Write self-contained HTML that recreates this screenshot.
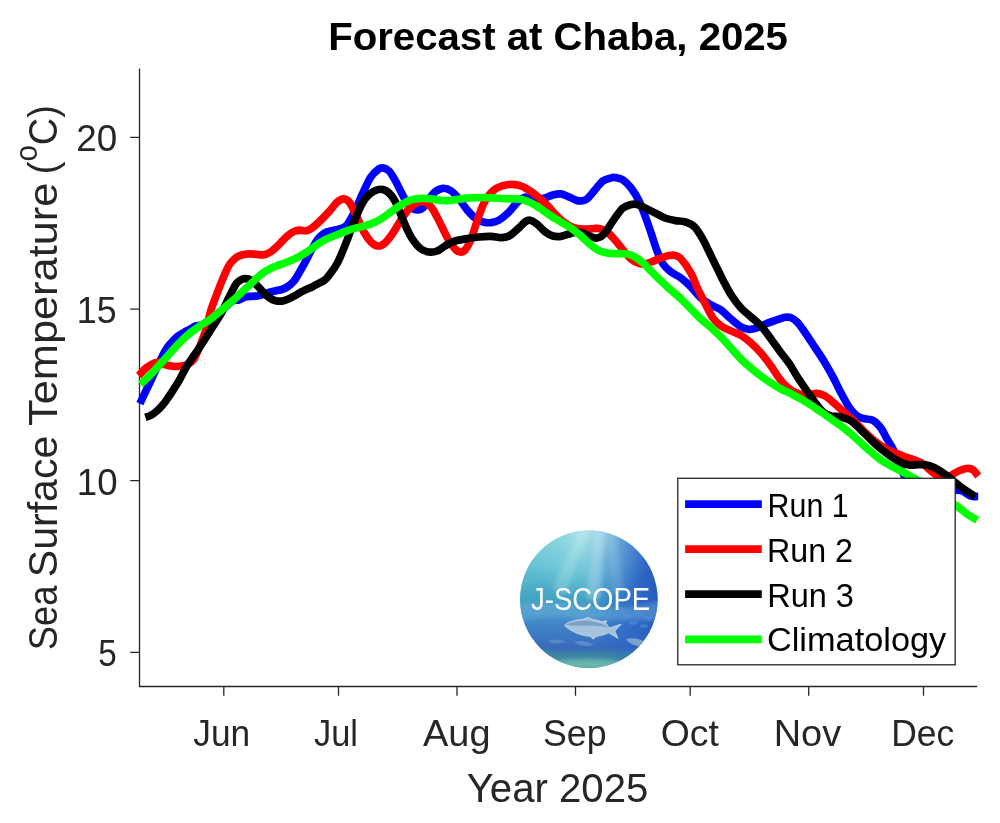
<!DOCTYPE html>
<html>
<head>
<meta charset="utf-8">
<title>Forecast at Chaba, 2025</title>
<style>
html,body{margin:0;padding:0;background:#fff;}
body{width:1000px;height:823px;overflow:hidden;font-family:"Liberation Sans",sans-serif;}
svg{display:block;will-change:transform;}
text{font-family:"Liberation Sans",sans-serif;fill:#262626;}
.ax{stroke:#262626;stroke-width:1.3;fill:none;}
.ln{fill:none;stroke-width:7.7;stroke-linejoin:round;stroke-linecap:butt;}
.tk{font-size:36.6px;}
.lg{font-size:32.6px;}
</style>
</head>
<body>
<svg width="1000" height="823" viewBox="0 0 1000 823">
<rect x="0" y="0" width="1000" height="823" fill="#fff"/>

<!-- title -->
<text transform="translate(328.18 49.50) scale(1.0435 1)" font-size="38.5" font-weight="bold" style="fill:#000">Forecast at Chaba, 2025</text>

<!-- axes -->
<path class="ax" d="M139.5 68.5V686.5H977.2"/>
<path class="ax" d="M130.2 137.4H139.5M130.2 309.1H139.5M130.2 480.6H139.5M130.2 652.4H139.5"/>
<path class="ax" d="M223.8 686.5V695.7M338.5 686.5V695.7M457 686.5V695.7M575.5 686.5V695.7M690.2 686.5V695.7M808.7 686.5V695.7M923.5 686.5V695.7"/>

<!-- data lines -->
<path class="ln" stroke="#0000ff" d="M139.9 403.7C141.1 401.1 144.9 393.1 147.1 388.4C149.4 383.7 151.2 379.8 153.2 375.5C155.2 371.2 157.3 366.7 159.3 362.5C161.3 358.4 163.3 353.8 165.4 350.4C167.4 347.1 169.4 344.9 171.4 342.5C173.5 340.2 175.5 338.2 177.5 336.5C179.5 334.8 181.6 333.6 183.6 332.5C185.6 331.3 187.6 330.5 189.7 329.4C191.7 328.3 193.7 326.7 195.7 325.9C197.8 325.2 199.6 325.9 202.0 324.8C204.4 323.8 207.3 321.5 210.0 319.6C212.7 317.7 215.3 315.6 218.0 313.4C220.7 311.2 223.5 308.6 226.0 306.5C228.5 304.4 230.8 301.8 233.0 300.7C235.2 299.6 237.2 300.5 239.3 299.8C241.4 299.2 243.3 297.6 245.4 297.0C247.4 296.5 249.4 296.5 251.4 296.3C253.5 296.1 255.5 296.3 257.5 296.0C259.5 295.6 261.6 295.0 263.6 294.4C265.6 293.7 267.6 292.8 269.7 292.2C271.7 291.6 273.7 291.2 275.7 290.7C277.8 290.3 279.8 290.2 281.8 289.5C283.8 288.8 285.9 287.9 287.9 286.5C289.9 285.1 291.9 283.5 294.0 281.0C296.0 278.5 298.0 274.7 300.0 271.3C302.0 267.9 304.1 264.2 306.1 260.4C308.1 256.6 310.1 252.2 312.2 248.6C314.2 245.0 316.2 241.3 318.2 238.7C320.3 236.1 322.6 234.3 324.3 233.1C326.1 231.9 326.4 232.0 328.8 231.4C331.2 230.7 335.8 230.3 338.8 229.2C341.8 228.2 344.2 228.0 346.9 225.0C349.5 221.9 352.2 216.3 354.9 210.9C357.5 205.6 360.2 198.6 362.9 192.9C365.6 187.2 368.2 180.9 370.9 176.9C373.6 172.9 376.9 170.4 378.9 168.9C380.9 167.4 381.3 167.5 382.9 167.9C384.6 168.2 386.9 168.9 388.9 170.9C390.9 172.9 392.9 176.4 394.9 179.9C397.0 183.4 399.0 188.1 401.0 191.9C403.0 195.7 405.0 200.1 407.0 202.9C409.0 205.8 411.1 207.8 413.0 208.9C414.8 210.1 416.3 210.1 418.0 209.9C419.7 209.8 421.2 209.8 423.0 207.9C424.8 206.1 427.0 201.6 429.0 198.9C431.0 196.2 432.7 193.7 435.0 191.9C437.4 190.1 440.4 188.5 443.0 188.3C445.7 188.1 448.4 189.1 451.1 190.9C453.7 192.7 456.4 195.7 459.1 198.9C461.7 202.1 464.4 206.8 467.1 209.9C469.8 213.1 472.4 216.0 475.1 218.0C477.8 220.0 480.5 221.2 483.1 222.0C485.8 222.7 488.5 222.9 491.1 222.6C493.8 222.2 496.2 221.7 499.2 220.0C502.1 218.2 506.0 214.8 509.0 211.9C511.9 209.1 514.2 205.4 516.8 202.9C519.5 200.5 521.8 198.0 524.8 197.3C527.8 196.6 531.5 198.8 534.8 198.9C538.2 199.0 541.9 198.6 544.9 197.9C547.9 197.2 550.2 195.6 552.9 194.9C555.6 194.2 558.2 193.6 560.9 193.9C563.6 194.2 566.2 195.8 568.9 196.9C571.6 198.0 574.9 199.9 576.9 200.5C578.9 201.2 579.3 201.2 580.9 200.9C582.6 200.7 584.6 200.8 587.0 198.9C589.3 197.1 592.3 192.9 595.0 189.9C597.6 186.9 600.3 182.9 603.0 180.9C605.7 178.9 609.0 178.4 611.0 177.9C613.0 177.3 613.0 177.1 615.0 177.5C617.0 177.8 620.4 178.1 623.0 179.9C625.7 181.6 628.4 184.4 631.0 187.9C633.7 191.4 636.7 196.2 639.1 200.9C641.4 205.6 643.1 210.6 645.1 216.0C647.1 221.3 649.1 227.1 651.1 233.0C653.1 238.8 655.1 245.8 657.1 251.0C659.1 256.2 660.8 260.5 663.1 264.0C665.4 267.6 668.1 269.7 671.1 272.1C674.1 274.4 677.9 275.6 681.1 278.1C684.4 280.5 687.5 283.5 690.8 286.8C694.1 290.1 697.5 294.8 700.8 297.9C704.2 300.9 707.5 302.9 710.8 304.9C714.2 306.9 717.5 307.5 720.9 309.9C724.2 312.2 727.5 316.1 730.9 318.9C734.2 321.7 737.9 325.2 740.9 326.9C743.9 328.6 746.2 329.2 748.9 329.3C751.6 329.5 753.9 328.9 756.9 327.9C759.9 326.9 763.6 324.6 767.0 323.3C770.3 322.0 774.0 320.9 777.0 319.9C780.0 318.9 782.7 317.7 785.0 317.3C787.3 316.9 789.0 317.0 791.0 317.7C793.0 318.5 794.7 319.5 797.0 321.9C799.4 324.3 802.0 328.2 805.0 332.4C808.0 336.7 811.7 342.4 815.0 347.5C818.4 352.5 821.9 357.7 825.1 363.0C828.2 368.2 831.3 373.9 834.0 378.9C836.6 383.9 838.5 388.3 841.0 392.9C843.5 397.6 846.4 403.1 849.0 407.0C851.7 410.8 854.3 413.9 856.9 415.9C859.6 417.8 862.3 418.1 864.9 418.8C867.6 419.6 870.3 418.8 873.0 420.4C875.6 421.9 878.6 425.1 881.0 428.1C883.3 431.2 885.0 435.5 887.0 438.9C889.0 442.4 891.0 444.9 893.0 448.9C895.0 452.9 897.0 458.3 899.0 463.0C901.0 467.6 902.4 473.7 905.0 477.0C907.7 480.3 911.4 481.5 915.0 483.0C918.7 484.5 923.1 485.0 927.1 486.0C931.1 487.0 935.1 488.3 939.1 489.0C943.1 489.7 947.4 490.0 951.1 490.3C954.8 490.5 957.8 489.6 961.1 490.6C964.5 491.5 968.3 495.2 971.2 496.2C974.0 497.2 977.0 496.4 978.2 496.4"/>
<path class="ln" stroke="#ff0000" d="M138.6 375.6C139.7 374.6 142.7 371.0 144.7 369.2C146.7 367.4 148.8 365.9 150.8 364.8C152.8 363.7 154.8 362.5 156.9 362.4C158.9 362.2 160.9 363.4 162.9 363.9C165.0 364.5 167.0 365.2 169.0 365.6C171.0 366.1 173.1 366.4 175.1 366.5C177.1 366.6 179.1 366.4 181.2 366.1C183.2 365.8 185.2 365.8 187.2 364.7C189.3 363.6 191.5 362.5 193.6 359.5C195.7 356.5 197.6 351.6 199.7 346.4C201.8 341.3 204.5 334.4 206.4 328.4C208.2 322.3 209.0 316.3 210.9 310.0C212.9 303.8 215.7 296.8 218.0 290.8C220.3 284.9 222.8 278.8 224.7 274.3C226.6 269.9 227.8 267.0 229.6 264.3C231.4 261.6 233.6 259.5 235.6 257.9C237.7 256.4 239.5 255.7 241.7 255.0C243.9 254.3 246.6 253.9 249.0 253.8C251.4 253.7 253.9 254.1 256.3 254.3C258.7 254.5 261.4 255.2 263.6 254.9C265.8 254.6 267.6 253.7 269.7 252.5C271.7 251.3 273.7 249.4 275.7 247.6C277.8 245.8 279.8 243.6 281.8 241.5C283.8 239.5 285.9 237.1 287.9 235.5C289.9 233.8 291.9 232.3 294.0 231.5C296.0 230.6 297.8 230.4 300.0 230.2C302.3 230.1 304.9 231.3 307.3 230.6C309.7 229.9 311.0 229.2 314.6 226.0C318.2 222.9 325.1 215.9 328.8 212.0C332.5 208.0 334.3 204.6 336.8 202.4C339.3 200.3 341.7 198.8 343.8 198.9C346.0 199.0 347.7 199.9 349.9 202.9C352.0 205.9 354.5 212.1 356.9 217.0C359.2 221.8 361.5 227.8 363.9 232.0C366.2 236.2 368.6 239.7 370.9 242.0C373.2 244.3 375.6 245.8 377.9 246.0C380.3 246.2 382.4 245.2 384.9 243.0C387.4 240.8 390.3 236.8 392.9 233.0C395.6 229.1 398.3 224.0 401.0 220.0C403.6 216.0 406.3 211.8 409.0 208.9C411.6 206.1 414.5 204.1 417.0 202.9C419.5 201.8 421.7 201.3 424.0 201.9C426.3 202.6 428.8 204.4 431.0 206.9C433.2 209.4 435.0 213.3 437.0 217.0C439.0 220.6 441.0 225.0 443.0 229.0C445.0 233.0 447.1 237.7 449.1 241.0C451.1 244.3 453.2 247.2 455.1 249.0C456.9 250.9 458.4 251.9 460.1 252.0C461.7 252.2 463.3 252.2 465.1 250.0C466.9 247.8 469.1 243.8 471.1 239.0C473.1 234.2 475.1 226.6 477.1 221.0C479.1 215.3 481.1 209.3 483.1 204.9C485.1 200.6 486.8 197.7 489.1 194.9C491.5 192.1 493.8 189.6 497.2 187.9C500.5 186.2 505.4 184.9 509.0 184.5C512.6 184.1 515.8 184.6 518.8 185.3C521.8 186.0 523.8 187.1 526.8 188.9C529.8 190.7 533.5 193.2 536.9 195.9C540.2 198.6 543.5 201.6 546.9 204.9C550.2 208.3 553.9 212.9 556.9 216.0C559.9 219.0 562.2 221.1 564.9 223.0C567.6 224.9 569.9 226.4 572.9 227.4C575.9 228.4 579.6 228.8 582.9 229.0C586.3 229.2 590.3 228.6 593.0 228.6C595.6 228.5 596.6 228.0 599.0 228.6C601.3 229.1 604.3 230.1 607.0 232.0C609.7 233.9 612.3 237.0 615.0 240.0C617.7 243.0 620.4 246.8 623.0 250.0C625.7 253.2 628.4 256.8 631.0 259.0C633.7 261.3 636.7 262.6 639.1 263.4C641.4 264.3 643.1 264.3 645.1 264.0C647.1 263.8 648.4 263.0 651.1 262.0C653.8 261.0 658.1 259.1 661.1 258.0C664.1 257.0 666.8 256.1 669.1 255.6C671.5 255.2 673.1 254.9 675.1 255.4C677.1 256.0 678.5 256.1 681.1 259.0C683.8 261.9 688.2 268.2 690.8 272.8C693.4 277.4 694.5 281.8 696.8 286.8C699.2 291.8 702.2 297.7 704.8 302.9C707.5 308.0 710.2 314.1 712.8 317.9C715.5 321.7 717.9 323.7 720.9 325.9C723.9 328.1 727.5 329.4 730.9 330.9C734.2 332.5 737.6 333.3 740.9 335.3C744.2 337.3 747.6 340.0 750.9 342.9C754.3 345.9 757.6 349.1 760.9 353.0C764.3 356.8 768.0 361.8 771.0 366.0C774.0 370.2 776.3 374.5 779.0 378.0C781.6 381.5 784.3 384.7 787.0 387.0C789.7 389.4 792.3 391.0 795.0 392.3C797.7 393.6 800.5 394.5 803.0 394.8C805.5 395.2 807.6 394.7 809.9 394.5C812.2 394.3 814.4 393.2 816.9 393.4C819.3 393.6 821.9 394.1 824.9 395.8C827.9 397.6 831.5 401.0 834.9 403.8C838.2 406.7 841.6 409.9 844.9 412.9C848.2 415.9 851.6 418.6 854.9 421.8C858.3 425.0 861.6 429.0 864.9 432.2C868.3 435.4 871.6 438.5 875.0 441.2C878.3 443.9 881.6 446.3 885.0 448.2C888.3 450.2 891.7 451.5 895.0 452.9C898.3 454.3 901.7 455.6 905.0 456.8C908.4 457.9 912.0 458.8 915.0 460.0C918.1 461.2 920.4 462.1 923.1 464.0C925.7 465.8 928.4 468.8 931.1 471.0C933.8 473.2 936.6 475.7 939.1 477.0C941.6 478.3 943.8 479.1 946.1 478.6C948.4 478.1 950.6 475.4 953.1 474.0C955.6 472.6 958.6 470.9 961.1 470.0C963.6 469.0 966.2 468.4 968.2 468.4C970.2 468.4 971.5 468.7 973.2 470.0C974.8 471.2 977.3 475.0 978.2 476.0"/>
<path class="ln" stroke="#000000" d="M145.4 417.3C146.3 417.0 148.5 416.5 150.3 415.6C152.1 414.6 154.2 413.4 156.3 411.5C158.5 409.7 161.3 406.7 163.3 404.3C165.4 401.8 166.9 399.4 168.7 396.8C170.5 394.3 172.2 391.5 174.0 388.7C175.8 385.9 177.6 383.2 179.5 379.8C181.4 376.4 183.6 371.8 185.6 368.3C187.6 364.8 189.6 361.6 191.7 358.6C193.7 355.5 195.7 353.0 197.7 350.1C199.8 347.1 201.8 344.1 203.8 341.0C205.8 337.8 207.9 334.5 209.9 331.3C211.9 328.0 214.0 324.9 216.0 321.7C217.9 318.5 220.1 315.4 221.9 312.1C223.7 308.8 225.1 305.2 226.7 302.0C228.3 298.7 229.9 295.4 231.4 292.6C232.8 289.7 234.2 286.7 235.6 284.7C237.0 282.6 238.2 281.4 239.8 280.4C241.4 279.4 243.4 278.6 245.4 278.6C247.3 278.6 249.4 279.2 251.4 280.4C253.5 281.6 255.5 283.8 257.5 285.9C259.5 287.9 261.6 290.5 263.6 292.6C265.6 294.6 267.6 296.7 269.7 298.0C271.7 299.4 273.7 300.2 275.7 300.7C277.8 301.2 279.8 301.3 281.8 301.1C283.8 300.8 285.9 300.0 287.9 299.2C289.9 298.4 291.9 297.3 294.0 296.2C296.0 295.1 298.0 293.7 300.0 292.6C302.0 291.4 304.1 290.5 306.1 289.5C308.1 288.6 310.1 287.9 312.2 286.9C314.2 285.9 316.2 284.7 318.2 283.6C320.3 282.5 322.6 281.7 324.3 280.4C326.1 279.0 326.6 278.5 328.8 275.6C331.0 272.7 334.5 268.5 337.4 263.0C340.2 257.6 343.2 250.0 346.0 243.0C348.9 236.0 351.6 227.6 354.4 221.0C357.1 214.3 360.0 207.4 362.6 202.9C365.1 198.4 367.3 196.1 369.7 193.9C372.2 191.7 374.9 190.6 377.1 189.9C379.3 189.2 381.0 189.0 382.9 189.5C384.9 190.0 386.9 191.0 388.9 192.9C390.9 194.8 392.9 197.2 394.9 200.9C397.0 204.6 399.0 210.3 401.0 214.9C403.0 219.6 405.0 224.8 407.0 229.0C409.0 233.2 410.6 236.7 413.0 240.0C415.3 243.3 418.3 247.0 421.0 249.0C423.7 251.0 426.3 251.7 429.0 252.0C431.7 252.4 434.4 252.0 437.0 251.0C439.7 250.0 442.0 247.7 445.0 246.0C448.1 244.3 451.4 242.2 455.1 241.0C458.7 239.8 463.1 239.3 467.1 238.6C471.1 237.9 475.1 237.4 479.1 237.0C483.1 236.6 487.5 236.3 491.1 236.4C494.8 236.5 498.2 237.7 501.2 237.6C504.1 237.5 506.0 237.6 509.0 236.0C511.9 234.4 516.0 230.4 518.8 228.0C521.6 225.5 523.8 222.6 525.8 221.4C527.8 220.1 529.0 219.9 530.8 220.4C532.7 220.8 534.5 222.1 536.9 224.0C539.2 225.8 542.2 229.6 544.9 231.6C547.5 233.6 550.2 235.2 552.9 236.0C555.6 236.8 557.9 236.8 560.9 236.4C563.9 236.0 567.9 234.1 570.9 233.4C573.9 232.7 576.3 231.7 578.9 232.0C581.6 232.2 584.3 234.0 587.0 235.0C589.6 236.0 592.6 237.7 595.0 238.0C597.3 238.3 599.0 237.9 601.0 236.6C603.0 235.3 604.7 233.1 607.0 230.0C609.3 226.9 612.3 221.6 615.0 218.0C617.7 214.3 620.4 210.2 623.0 207.9C625.7 205.7 628.7 205.1 631.0 204.5C633.4 204.0 634.7 204.0 637.1 204.5C639.4 205.1 642.1 206.5 645.1 207.9C648.1 209.3 651.7 211.3 655.1 212.9C658.4 214.6 661.8 216.7 665.1 218.0C668.4 219.2 671.7 219.9 675.1 220.6C678.5 221.2 682.4 220.9 685.6 222.0C688.9 223.0 691.8 224.1 694.7 227.0C697.5 229.8 700.3 235.0 702.7 239.0C705.0 243.0 706.1 245.7 708.7 251.0C711.3 256.3 715.7 265.5 718.4 270.8C721.0 276.1 722.1 278.6 724.4 282.8C726.6 287.0 729.0 291.7 731.8 295.9C734.5 300.0 737.7 304.4 740.9 307.9C744.1 311.4 747.6 313.9 750.9 316.9C754.3 319.9 757.6 322.2 760.9 325.9C764.3 329.6 767.7 334.6 771.0 338.9C774.2 343.3 777.3 347.8 780.4 352.0C783.4 356.1 786.6 359.7 789.4 363.7C792.1 367.8 794.1 371.9 796.9 376.2C799.7 380.6 803.2 385.6 806.2 389.9C809.2 394.2 812.1 398.5 814.8 402.1C817.6 405.8 820.2 409.6 822.9 411.9C825.5 414.2 827.9 415.0 830.9 415.9C833.9 416.7 837.6 416.0 840.9 416.9C844.2 417.7 847.6 418.7 850.9 420.9C854.3 423.1 857.6 426.7 860.9 429.9C864.3 433.1 867.6 436.7 871.0 439.9C874.3 443.1 877.6 446.2 881.0 448.9C884.3 451.7 887.7 454.3 891.0 456.6C894.3 458.8 898.0 461.2 901.0 462.6C904.0 464.0 906.0 464.6 909.0 465.0C912.0 465.3 916.1 464.6 919.1 464.6C922.1 464.6 924.4 464.4 927.1 465.0C929.7 465.5 932.4 466.6 935.1 468.0C937.8 469.3 940.4 471.1 943.1 473.0C945.8 474.8 948.1 476.7 951.1 479.0C954.1 481.3 957.8 484.5 961.1 487.0C964.5 489.5 968.8 492.4 971.2 494.0C973.5 495.6 974.5 496.2 975.2 496.6"/>
<path class="ln" stroke="#00ff00" d="M140.5 384.3C141.6 383.3 145.0 380.2 147.1 378.1C149.3 376.0 151.2 374.1 153.2 371.9C155.2 369.7 157.3 367.3 159.3 365.1C161.3 362.8 163.3 360.6 165.4 358.3C167.4 356.1 169.4 353.8 171.4 351.6C173.5 349.3 175.5 347.0 177.5 344.9C179.5 342.7 181.6 340.7 183.6 338.7C185.6 336.8 187.6 334.9 189.7 333.2C191.7 331.6 193.7 330.4 195.7 328.9C197.8 327.5 199.8 326.0 201.8 324.6C203.8 323.3 205.9 322.3 207.9 320.9C209.9 319.6 211.8 318.1 214.0 316.4C216.1 314.7 218.9 312.5 221.1 310.6C223.3 308.8 225.1 306.9 227.1 305.2C229.2 303.4 231.2 302.0 233.2 300.2C235.2 298.5 237.3 296.5 239.3 294.6C241.3 292.7 243.3 290.8 245.4 288.9C247.4 287.0 249.4 285.1 251.4 283.2C253.5 281.3 255.5 279.2 257.5 277.5C259.5 275.7 261.6 273.9 263.6 272.5C265.6 271.1 267.6 269.9 269.7 268.9C271.7 267.8 273.7 267.0 275.7 266.2C277.8 265.4 279.8 264.7 281.8 264.0C283.8 263.3 285.9 262.6 287.9 261.8C289.9 261.0 291.9 260.1 294.0 259.2C296.0 258.2 298.0 257.2 300.0 256.1C302.0 255.0 304.1 253.8 306.1 252.5C308.1 251.2 310.1 249.6 312.2 248.2C314.2 246.8 316.2 245.3 318.2 243.9C320.3 242.6 322.2 241.3 324.3 240.2C326.4 239.1 328.1 238.4 330.8 237.3C333.6 236.2 337.5 234.6 340.8 233.3C344.2 232.0 347.5 230.5 350.9 229.4C354.2 228.3 357.5 227.8 360.9 226.9C364.2 225.9 367.6 225.2 370.9 223.9C374.2 222.5 377.6 220.9 380.9 219.0C384.3 217.0 387.6 214.3 390.9 211.9C394.3 209.6 397.6 206.9 401.0 204.9C404.3 202.9 407.6 201.0 411.0 199.9C414.3 198.8 417.7 198.5 421.0 198.3C424.3 198.1 427.7 198.5 431.0 198.9C434.4 199.3 437.7 200.3 441.0 200.5C444.4 200.8 447.7 200.6 451.1 200.3C454.4 200.1 457.7 199.3 461.1 198.9C464.4 198.5 467.8 198.1 471.1 197.9C474.4 197.7 477.8 197.5 481.1 197.5C484.5 197.5 487.8 197.7 491.1 197.9C494.5 198.1 497.9 198.3 501.2 198.5C504.4 198.7 507.5 198.8 510.8 198.9C514.1 199.0 517.5 198.6 520.8 199.3C524.2 200.0 527.5 201.3 530.8 202.9C534.2 204.5 537.5 206.8 540.9 208.9C544.2 211.1 547.5 213.8 550.9 216.0C554.2 218.1 557.6 220.0 560.9 222.0C564.2 224.0 567.6 225.6 570.9 228.0C574.3 230.3 577.6 233.2 580.9 236.0C584.3 238.8 588.0 242.6 591.0 245.0C594.0 247.4 596.3 249.3 599.0 250.6C601.6 252.0 604.0 252.5 607.0 253.0C610.0 253.5 613.7 253.5 617.0 253.6C620.4 253.8 624.0 253.5 627.0 254.0C630.0 254.6 632.4 255.5 635.0 257.0C637.7 258.5 640.4 260.7 643.1 263.0C645.7 265.4 648.1 268.1 651.1 271.1C654.1 274.1 657.8 277.9 661.1 281.1C664.4 284.3 667.8 287.1 671.1 290.1C674.5 293.1 677.9 296.0 681.1 299.1C684.4 302.2 687.5 305.6 690.8 308.9C694.1 312.2 697.5 315.8 700.8 318.9C704.2 322.0 707.5 324.3 710.8 327.3C714.2 330.3 717.5 333.5 720.9 336.9C724.2 340.4 727.5 344.3 730.9 348.0C734.2 351.6 737.6 355.6 740.9 359.0C744.2 362.3 747.6 365.2 750.9 368.0C754.3 370.8 757.6 373.5 760.9 376.0C764.3 378.5 767.6 380.9 771.0 383.0C774.3 385.2 777.7 387.3 781.0 389.0C784.3 390.8 787.6 392.0 790.9 393.7C794.2 395.3 797.5 397.1 800.8 399.0C804.1 400.9 807.5 403.0 810.8 405.1C814.2 407.2 817.5 409.6 820.9 411.9C824.2 414.2 827.5 416.5 830.9 418.9C834.2 421.2 837.6 423.4 840.9 425.9C844.2 428.4 847.6 431.1 850.9 433.9C854.3 436.7 857.6 439.9 860.9 442.9C864.3 445.9 867.6 449.1 871.0 451.9C874.3 454.8 877.6 457.6 881.0 460.0C884.3 462.3 887.7 464.1 891.0 466.0C894.3 467.8 897.7 469.2 901.0 471.0C904.4 472.8 907.7 474.8 911.0 476.6C914.4 478.4 917.7 480.1 921.1 482.0C924.4 483.9 927.7 485.8 931.1 488.0C934.4 490.2 937.8 492.7 941.1 495.0C944.4 497.4 948.4 500.2 951.1 502.0C953.8 503.9 954.5 504.0 957.1 506.1C959.8 508.1 963.8 511.7 967.2 514.1C970.5 516.4 975.5 519.1 977.2 520.1"/>

<!-- tick labels and axis labels -->
<text transform="translate(76.37 151.20) scale(1.0060 1)" font-size="36.6">20</text>
<text transform="translate(76.86 322.90) scale(0.9784 1)" font-size="36.6">15</text>
<text transform="translate(76.79 494.50) scale(1.0002 1)" font-size="36.6">10</text>
<text transform="translate(98.34 666.20) scale(0.9081 1)" font-size="36.6">5</text>
<text transform="translate(193.33 745.50) scale(0.9643 1)" font-size="36.6">Jun</text>
<text transform="translate(313.95 745.50) scale(0.9399 1)" font-size="36.6">Jul</text>
<text transform="translate(423.08 745.50) scale(1.0355 1)" font-size="36.6">Aug</text>
<text transform="translate(543.05 745.50) scale(0.9738 1)" font-size="36.6">Sep</text>
<text transform="translate(660.64 745.50) scale(1.0225 1)" font-size="36.6">Oct</text>
<text transform="translate(773.69 745.50) scale(1.0356 1)" font-size="36.6">Nov</text>
<text transform="translate(891.29 745.50) scale(0.9673 1)" font-size="36.6">Dec</text>
<text transform="translate(466.69 801.80) scale(1.0045 1)" font-size="40">Year 2025</text>
<text transform="translate(57.00 650.22) rotate(-90) scale(0.9101 1)" font-size="40">Sea</text>
<text transform="translate(57.00 577.25) rotate(-90) scale(1.0269 1)" font-size="40">Surface</text>
<text transform="translate(57.00 425.88) rotate(-90) scale(1.0829 1)" font-size="40">Temperature</text>
<text transform="translate(57.00 174.25) rotate(-90) scale(0.9494 1)" font-size="40">(<tspan font-size="31" dy="-19.7">o</tspan><tspan dy="19.7">C)</tspan></text>

<!-- logo -->
<defs>
<clipPath id="lc"><circle cx="588.8" cy="599.3" r="68.8"/></clipPath>
<linearGradient id="lgv" x1="0" y1="0" x2="0" y2="1">
<stop offset="0" stop-color="#84d4df"/>
<stop offset="0.25" stop-color="#66c4d5"/>
<stop offset="0.5" stop-color="#40a3c2"/>
<stop offset="0.6" stop-color="#4593c8"/>
<stop offset="0.7" stop-color="#4182c7"/>
<stop offset="0.84" stop-color="#386aba"/>
<stop offset="0.92" stop-color="#3d86ab"/>
<stop offset="0.965" stop-color="#58aaa2"/>
<stop offset="1" stop-color="#3d8f96"/>
</linearGradient>
<linearGradient id="lgh" x1="0" y1="0.12" x2="1" y2="0">
<stop offset="0" stop-color="#2c66c8" stop-opacity="0"/>
<stop offset="0.46" stop-color="#2c66c8" stop-opacity="0.05"/>
<stop offset="0.64" stop-color="#2c66c8" stop-opacity="0.6"/>
<stop offset="0.82" stop-color="#2a60c4" stop-opacity="0.9"/>
<stop offset="1" stop-color="#2452b6" stop-opacity="0.98"/>
</linearGradient>
<radialGradient id="lgr" cx="0.5" cy="0" r="0.5">
<stop offset="0" stop-color="#c4eef0" stop-opacity="0.7"/>
<stop offset="0.5" stop-color="#a8e2e8" stop-opacity="0.3"/>
<stop offset="1" stop-color="#a8e2e8" stop-opacity="0"/>
</radialGradient>
<filter id="b2" x="-20%" y="-20%" width="140%" height="140%"><feGaussianBlur stdDeviation="2"/></filter>
<filter id="b1" x="-20%" y="-20%" width="140%" height="140%"><feGaussianBlur stdDeviation="0.45"/></filter>
</defs>
<g id="logo" clip-path="url(#lc)">
<rect x="519" y="530" width="140" height="140" fill="url(#lgv)"/>
<rect x="519" y="530" width="140" height="140" fill="url(#lgh)"/>
<rect x="519" y="530" width="140" height="140" fill="url(#lgr)"/>
<g filter="url(#b2)" fill="#e6fbfb">
<path d="M596 526L586 600L600 600L606 526Z" opacity="0.26"/>
<path d="M606 526L612 596L624 590L615 526Z" opacity="0.14"/>
<path d="M580 526L552 590L566 594L590 526Z" opacity="0.2"/>
</g>
<path d="M519 604C545 600 570 603 600 607C625 610 645 606 660 600V622C640 618 600 622 570 618C550 616 530 618 519 622Z" fill="#6fb0dc" opacity="0.45" filter="url(#b2)"/>
<ellipse cx="588" cy="664" rx="34" ry="5" fill="#8ed0c4" opacity="0.8" filter="url(#b2)"/>
<path d="M519 651H660V670H519Z" fill="#3f958f" opacity="0.35" filter="url(#b2)"/>
<g filter="url(#b1)">
<path d="M564.5 625.2C568 622 575 619.8 582 619.4L588.4 617.4L592.6 619.6C596 620 599.6 620.8 602.6 621.8L606.4 620.6L606 623.4C607.4 624.6 608.4 626.4 609.2 628L621.4 624L614.8 631L618 638.4L608.6 632.8C605 634.6 600.4 636 596.4 636.4L593.2 639.2L590.6 636.4C584.4 636 578 634.4 572.4 631C569 629.2 566.4 627.2 564.5 625.2Z" fill="#a6c2dc" stroke="#d4e4f0" stroke-width="0.7"/>
<path d="M565.5 625C570 622.4 577 620.8 584 620.8C593 621 602 623 609 627.6C601 626.2 594 625.6 586 625.6C578 625.6 571 625.6 565.5 625Z" fill="#6d93bd" opacity="0.75"/>
<path d="M626 639.6C630 637.6 636 638 642 640.4C646 642 650 644.6 653 647.4C647 647.8 640 647 634 645C630.5 643.8 627.5 641.8 626 639.6Z" fill="#86a8cc" opacity="0.9"/>
<path d="M548 641C553 638.6 560 639 566 641.4C561 644 553 644.6 548 641Z" fill="#6f9fd0" opacity="0.5"/>
<path d="M574 642C580 640 588 641 594 645C588 647 579 646 574 642Z" fill="#7eaad6" opacity="0.45"/>
</g>
<g fill="#5f90d6" opacity="0.55" filter="url(#b1)">
<ellipse cx="628" cy="616" rx="4.5" ry="1.8"/><ellipse cx="639" cy="613" rx="4.5" ry="1.8"/><ellipse cx="648" cy="618" rx="4" ry="1.7"/>
<ellipse cx="633" cy="623" rx="4.5" ry="1.8"/><ellipse cx="644" cy="626" rx="4" ry="1.7"/><ellipse cx="622" cy="609" rx="4" ry="1.6"/>
</g>
<text id="jscope" transform="translate(531 609.9) scale(0.86 1)" font-size="32" style="fill:#fff">J-SCOPE</text>
</g>

<!-- legend -->
<rect x="677.8" y="478.3" width="277.4" height="186.5" fill="#fff" stroke="#262626" stroke-width="1.3"/>
<path d="M685.1 504.2H761.8" stroke="#0000ff" stroke-width="7.7" fill="none"/>
<path d="M685.1 549.2H761.8" stroke="#ff0000" stroke-width="7.7" fill="none"/>
<path d="M685.1 594.2H761.8" stroke="#000000" stroke-width="7.7" fill="none"/>
<path d="M685.1 639.4H761.8" stroke="#00ff00" stroke-width="7.7" fill="none"/>
<text transform="translate(767.60 517.00) scale(0.9318 1)" font-size="32.6" style="fill:#000">Run 1</text>
<text transform="translate(767.04 561.80) scale(0.9878 1)" font-size="32.6" style="fill:#000">Run 2</text>
<text transform="translate(767.20 606.80) scale(0.9976 1)" font-size="32.6" style="fill:#000">Run 3</text>
<text transform="translate(766.89 651.20) scale(1.0536 1)" font-size="32.6" style="fill:#000">Climatology</text>
</svg>
</body>
</html>
